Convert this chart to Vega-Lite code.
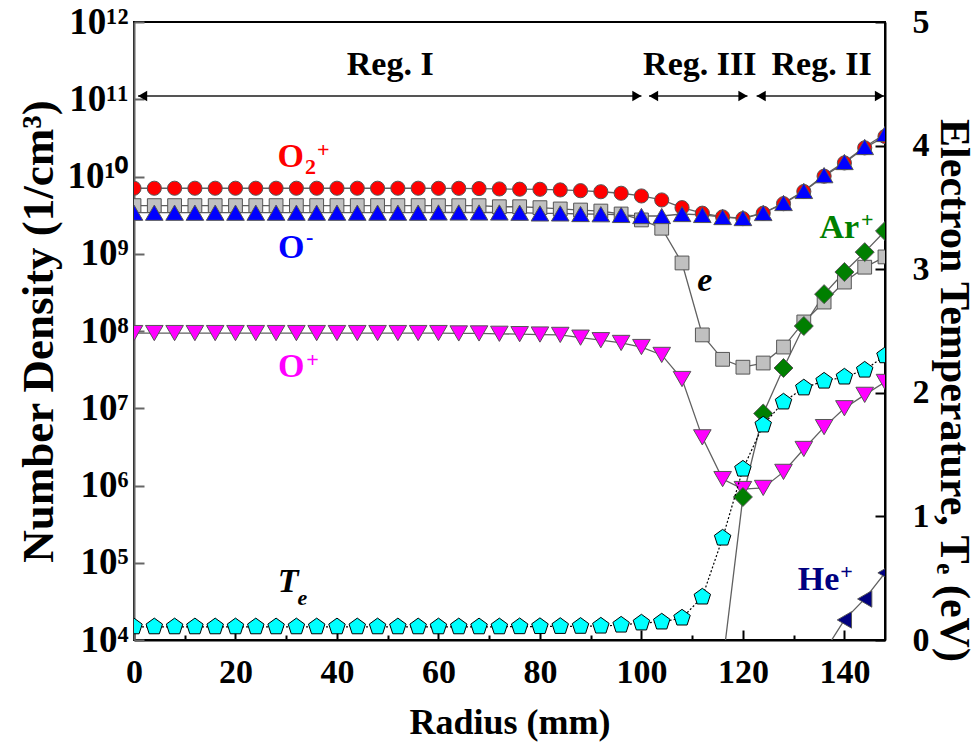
{
  "$schema": "https://vega.github.io/schema/vega-lite/v6.json",
  "width": 751,
  "height": 618,
  "autosize": {"type": "none"},
  "padding": {"left": 134, "top": 22, "right": 92, "bottom": 109},
  "background": "white",
  "config": {
    "font": "Liberation Serif",
    "view": {"stroke": "black", "strokeWidth": 2},
    "axis": {
      "labelFont": "Liberation Serif", "titleFont": "Liberation Serif",
      "labelFontWeight": "bold", "titleFontWeight": "bold",
      "labelColor": "black", "titleColor": "black", "grid": false,
      "domainColor": "black", "domainWidth": 2, "tickColor": "black", "tickWidth": 2
    },
    "style": {
      "guide-label": {"font": "Liberation Serif", "fontWeight": "bold"},
      "guide-title": {"font": "Liberation Serif", "fontWeight": "bold"}
    }
  },
  "datasets": {
    "dens": [
      {"r": 0, "O2p": 7.05e9, "e": 4.2e9, "Om": 3.4e9, "Op": 9.4e7},
      {"r": 4, "O2p": 7.05e9, "e": 4.2e9, "Om": 3.4e9, "Op": 9.4e7},
      {"r": 8, "O2p": 7.05e9, "e": 4.2e9, "Om": 3.4e9, "Op": 9.4e7},
      {"r": 12, "O2p": 7.05e9, "e": 4.2e9, "Om": 3.4e9, "Op": 9.4e7},
      {"r": 16, "O2p": 7.05e9, "e": 4.2e9, "Om": 3.4e9, "Op": 9.4e7},
      {"r": 20, "O2p": 7.05e9, "e": 4.2e9, "Om": 3.4e9, "Op": 9.4e7},
      {"r": 24, "O2p": 7.05e9, "e": 4.2e9, "Om": 3.4e9, "Op": 9.4e7},
      {"r": 28, "O2p": 7.05e9, "e": 4.2e9, "Om": 3.4e9, "Op": 9.4e7},
      {"r": 32, "O2p": 7.05e9, "e": 4.2e9, "Om": 3.4e9, "Op": 9.4e7},
      {"r": 36, "O2p": 7.05e9, "e": 4.2e9, "Om": 3.4e9, "Op": 9.4e7},
      {"r": 40, "O2p": 7.05e9, "e": 4.2e9, "Om": 3.4e9, "Op": 9.4e7},
      {"r": 44, "O2p": 7.05e9, "e": 4.2e9, "Om": 3.4e9, "Op": 9.4e7},
      {"r": 48, "O2p": 7.05e9, "e": 4.2e9, "Om": 3.4e9, "Op": 9.4e7},
      {"r": 52, "O2p": 7.05e9, "e": 4.2e9, "Om": 3.4e9, "Op": 9.4e7},
      {"r": 56, "O2p": 7.05e9, "e": 4.2e9, "Om": 3.4e9, "Op": 9.4e7},
      {"r": 60, "O2p": 7.03e9, "e": 4.19e9, "Om": 3.42e9, "Op": 9.4e7},
      {"r": 64, "O2p": 7.03e9, "e": 4.19e9, "Om": 3.42e9, "Op": 9.3e7},
      {"r": 68, "O2p": 6.98e9, "e": 4.19e9, "Om": 3.42e9, "Op": 9.3e7},
      {"r": 72, "O2p": 6.9e9, "e": 4.06e9, "Om": 3.42e9, "Op": 9.2e7},
      {"r": 76, "O2p": 6.85e9, "e": 4.06e9, "Om": 3.4e9, "Op": 9.1e7},
      {"r": 80, "O2p": 6.83e9, "e": 3.95e9, "Om": 3.33e9, "Op": 9.0e7},
      {"r": 84, "O2p": 6.7e9, "e": 3.8e9, "Om": 3.33e9, "Op": 8.9e7},
      {"r": 88, "O2p": 6.55e9, "e": 3.68e9, "Om": 3.27e9, "Op": 8.2e7},
      {"r": 92, "O2p": 6.35e9, "e": 3.57e9, "Om": 3.25e9, "Op": 7.6e7},
      {"r": 96, "O2p": 6.07e9, "e": 3.27e9, "Om": 3.18e9, "Op": 7.0e7},
      {"r": 100, "O2p": 5.6e9, "e": 2.74e9, "Om": 3.08e9, "Op": 6.2e7},
      {"r": 104, "O2p": 4.97e9, "e": 2.14e9, "Om": 3.08e9, "Op": 4.9e7},
      {"r": 108, "O2p": 3.95e9, "e": 7.6e8, "Om": 3.27e9, "Op": 2.39e7},
      {"r": 112, "O2p": 3.35e9, "e": 8.9e7, "Om": 3.18e9, "Op": 4.2e6},
      {"r": 116, "O2p": 3.0e9, "e": 4.3e7, "Om": 2.99e9, "Op": 1.21e6, "Arp": 4.9e3},
      {"r": 120, "O2p": 2.85e9, "e": 3.4e7, "Om": 2.9e9, "Op": 9.0e5, "Arp": 7.1e5},
      {"r": 124, "O2p": 3.35e9, "e": 3.85e7, "Om": 3.37e9, "Op": 9.3e5, "Arp": 8.55e6},
      {"r": 128, "O2p": 4.45e9, "e": 6.2e7, "Om": 4.54e9, "Op": 1.5e6, "Arp": 3.32e7},
      {"r": 132, "O2p": 6.4e9, "e": 1.31e8, "Om": 6.5e9, "Op": 2.97e6, "Arp": 1.16e8},
      {"r": 136, "O2p": 1.01e10, "e": 2.37e8, "Om": 1.04e10, "Op": 5.7e6, "Arp": 3.0e8, "Hep": 7e3},
      {"r": 140, "O2p": 1.5e10, "e": 4.3e8, "Om": 1.54e10, "Op": 1.0e7, "Arp": 5.8e8, "Hep": 1.82e4},
      {"r": 144, "O2p": 2.35e10, "e": 6.7e8, "Om": 2.41e10, "Op": 1.49e7, "Arp": 1.05e9, "Hep": 3.4e4},
      {"r": 148, "O2p": 3.3e10, "e": 9.1e8, "Om": 3.55e10, "Op": 2.19e7, "Arp": 1.97e9, "Hep": 7.4e4}
    ],
    "te": [
      {"r": 0, "te": 0.107}, {"r": 4, "te": 0.107}, {"r": 8, "te": 0.107}, {"r": 12, "te": 0.107},
      {"r": 16, "te": 0.107}, {"r": 20, "te": 0.107}, {"r": 24, "te": 0.107}, {"r": 28, "te": 0.107},
      {"r": 32, "te": 0.107}, {"r": 36, "te": 0.107}, {"r": 40, "te": 0.107}, {"r": 44, "te": 0.107},
      {"r": 48, "te": 0.107}, {"r": 52, "te": 0.107}, {"r": 56, "te": 0.107}, {"r": 60, "te": 0.107},
      {"r": 64, "te": 0.107}, {"r": 68, "te": 0.107}, {"r": 72, "te": 0.107}, {"r": 76, "te": 0.108},
      {"r": 80, "te": 0.109}, {"r": 84, "te": 0.11}, {"r": 88, "te": 0.111}, {"r": 92, "te": 0.113},
      {"r": 96, "te": 0.121}, {"r": 100, "te": 0.138}, {"r": 104, "te": 0.146}, {"r": 108, "te": 0.178},
      {"r": 112, "te": 0.348}, {"r": 116, "te": 0.825}, {"r": 120, "te": 1.383}, {"r": 124, "te": 1.74},
      {"r": 128, "te": 1.926}, {"r": 132, "te": 2.04}, {"r": 136, "te": 2.095}, {"r": 140, "te": 2.128},
      {"r": 144, "te": 2.184}, {"r": 148, "te": 2.3}
    ],
    "arrows": [
      {"a": 0.8, "b": 100.0},
      {"a": 101.5, "b": 120.9},
      {"a": 122.7, "b": 147.8}
    ],
    "heads": [
      {"r": 1.7, "d": "l"}, {"r": 102.4, "d": "l"}, {"r": 123.6, "d": "l"},
      {"r": 99.1, "d": "r"}, {"r": 120.0, "d": "r"}, {"r": 146.9, "d": "r"}
    ],
    "labs": [
      {"t": "O", "r": 30.9, "v": 1.79e10, "k": "O2p"},
      {"t": "O", "r": 31.0, "v": 1.19e9, "k": "Om"},
      {"t": "O", "r": 31.0, "v": 3.42e7, "k": "Op"},
      {"t": "Ar", "r": 139.0, "v": 2.15e9, "k": "Arp"},
      {"t": "He", "r": 134.9, "v": 5.99e4, "k": "Hep"},
      {"t": "Reg. I", "r": 50.5, "v": 2.77e11, "k": "none"},
      {"t": "Reg. III", "r": 111.5, "v": 2.77e11, "k": "none"},
      {"t": "Reg. II", "r": 135.5, "v": 2.77e11, "k": "none"}
    ],
    "subs": [
      {"t": "2", "r": 34.8, "v": 1.33e10, "k": "O2p"},
      {"t": "+", "r": 37.3, "v": 2.2e10, "k": "O2p"},
      {"t": "-", "r": 34.6, "v": 1.65e9, "k": "Om"},
      {"t": "+", "r": 35.2, "v": 4.2e7, "k": "Op"},
      {"t": "+", "r": 144.5, "v": 2.73e9, "k": "Arp"},
      {"t": "+", "r": 140.4, "v": 7.6e4, "k": "Hep"}
    ],
    "ital": [
      {"t": "e", "r": 112.5, "v": 4.44e8}
    ],
    "tlab": [
      {"t": "T", "r": 30.4, "te": 0.469}
    ],
    "tsub": [
      {"t": "e", "r": 33.2, "te": 0.34}
    ]
  },
  "layer": [
    {
      "data": {"name": "dens"},
      "transform": [
        {"fold": ["O2p", "e", "Om", "Op", "Arp", "Hep"], "as": ["s", "v"]},
        {"filter": "isValid(datum.v)"}
      ],
      "mark": {"type": "line", "clip": true, "color": "#606060", "strokeWidth": 1.3},
      "encoding": {
        "x": {
          "field": "r", "type": "quantitative",
          "scale": {"domain": [0, 148], "nice": false, "zero": false},
          "axis": {
            "orient": "bottom", "values": [0, 20, 40, 60, 80, 100, 120, 140],
            "labelFont": "Liberation Serif", "titleFont": "Liberation Serif",
            "labelFontSize": 34, "labelPadding": 25, "tickSize": -10,
            "labelFlush": false, "labelOverlap": false,
            "title": "Radius (mm)", "titleFontSize": 36, "titleY": 82, "titleBaseline": "middle"
          }
        },
        "y": {
          "field": "v", "type": "quantitative",
          "scale": {"type": "log", "domain": [1e4, 1e12], "nice": false},
          "axis": {
            "orient": "left",
            "values": [1e4, 1e5, 1e6, 1e7, 1e8, 1e9, 1e10, 1e11, 1e12],
            "labelExpr": "['10⁴','10⁵','10⁶','10⁷','10⁸','10⁹','10¹⁰','10¹¹','10¹²'][round(log(datum.value)/LN10)-4]",
            "labelFont": "Liberation Serif", "titleFont": "Liberation Serif",
            "labelFontSize": 37, "labelPadding": 16, "tickSize": -10,
            "labelFlush": false, "labelOverlap": false,
            "tickColor": "#666", "domainColor": "#666",
            "title": "Number Density (1/cm³)", "titleFontSize": 45,
            "titleX": -96, "titleY": 309, "titleBaseline": "middle", "titleAngle": 270
          }
        },
        "detail": {"field": "s", "type": "nominal"}
      }
    },
    {
      "data": {"name": "dens"},
      "transform": [
        {"fold": ["O2p", "e", "Om", "Op", "Arp", "Hep"], "as": ["s", "v"]},
        {"filter": "isValid(datum.v)"}
      ],
      "mark": {"type": "point", "filled": true, "clip": true, "stroke": "#555555", "strokeWidth": 1, "opacity": 1},
      "encoding": {
        "x": {"field": "r", "type": "quantitative", "axis": null},
        "y": {"field": "v", "type": "quantitative", "axis": null, "scale": {"type": "log", "domain": [1e4, 1e12], "nice": false}},
        "shape": {
          "field": "s", "type": "nominal", "legend": null,
          "scale": {"domain": ["O2p", "e", "Om", "Op", "Arp", "Hep"], "range": ["circle", "square", "triangle-up", "triangle-down", "diamond", "triangle-left"]}
        },
        "fill": {
          "field": "s", "type": "nominal", "legend": null,
          "scale": {"domain": ["O2p", "e", "Om", "Op", "Arp", "Hep"], "range": ["#ff0000", "#c0c0c0", "#0000ff", "#ff00ff", "#007f00", "#000080"]}
        },
        "size": {
          "field": "s", "type": "nominal", "legend": null,
          "scale": {"type": "ordinal", "domain": ["O2p", "e", "Om", "Op", "Arp", "Hep"], "range": [200, 190, 310, 310, 360, 270]}
        }
      }
    },
    {
      "data": {"name": "arrows"},
      "mark": {"type": "rule", "color": "#555555", "strokeWidth": 2},
      "encoding": {
        "x": {"field": "a", "type": "quantitative", "axis": null},
        "x2": {"field": "b"},
        "y": {"datum": 1.1e11, "type": "quantitative", "axis": null, "scale": {"type": "log", "domain": [1e4, 1e12], "nice": false}}
      }
    },
    {
      "data": {"name": "heads"},
      "transform": [{"filter": "datum.d === 'l'"}],
      "mark": {"type": "point", "shape": "triangle-left", "filled": true, "color": "black", "size": 110, "opacity": 1},
      "encoding": {
        "x": {"field": "r", "type": "quantitative", "axis": null},
        "y": {"datum": 1.1e11, "type": "quantitative", "axis": null, "scale": {"type": "log", "domain": [1e4, 1e12], "nice": false}}
      }
    },
    {
      "data": {"name": "heads"},
      "transform": [{"filter": "datum.d === 'r'"}],
      "mark": {"type": "point", "shape": "triangle-right", "filled": true, "color": "black", "size": 110, "opacity": 1},
      "encoding": {
        "x": {"field": "r", "type": "quantitative", "axis": null},
        "y": {"datum": 1.1e11, "type": "quantitative", "axis": null, "scale": {"type": "log", "domain": [1e4, 1e12], "nice": false}}
      }
    },
    {
      "data": {"name": "labs"},
      "mark": {"type": "text", "font": "Liberation Serif", "fontWeight": "bold", "fontSize": 34, "align": "center", "baseline": "middle"},
      "encoding": {
        "x": {"field": "r", "type": "quantitative", "axis": null},
        "y": {"field": "v", "type": "quantitative", "axis": null, "scale": {"type": "log", "domain": [1e4, 1e12], "nice": false}},
        "text": {"field": "t"},
        "color": {
          "field": "k", "type": "nominal", "legend": null,
          "scale": {"domain": ["O2p", "Om", "Op", "Arp", "Hep", "none"], "range": ["#ff0000", "#0000ff", "#ff00ff", "#008000", "#000080", "#000000"]}
        }
      }
    },
    {
      "data": {"name": "subs"},
      "mark": {"type": "text", "font": "Liberation Serif", "fontWeight": "bold", "fontSize": 22, "align": "center", "baseline": "middle"},
      "encoding": {
        "x": {"field": "r", "type": "quantitative", "axis": null},
        "y": {"field": "v", "type": "quantitative", "axis": null, "scale": {"type": "log", "domain": [1e4, 1e12], "nice": false}},
        "text": {"field": "t"},
        "color": {"field": "k", "type": "nominal", "legend": null}
      }
    },
    {
      "data": {"name": "ital"},
      "mark": {"type": "text", "font": "Liberation Serif", "fontWeight": "bold", "fontStyle": "italic", "fontSize": 34, "align": "center", "baseline": "middle", "color": "black"},
      "encoding": {
        "x": {"field": "r", "type": "quantitative", "axis": null},
        "y": {"field": "v", "type": "quantitative", "axis": null, "scale": {"type": "log", "domain": [1e4, 1e12], "nice": false}},
        "text": {"field": "t"}
      }
    },
    {
      "data": {"name": "te"},
      "mark": {"type": "line", "color": "black", "strokeWidth": 1.2, "strokeDash": [2, 2], "clip": true},
      "encoding": {
        "x": {"field": "r", "type": "quantitative", "axis": null},
        "y": {
          "field": "te", "type": "quantitative",
          "scale": {"domain": [0, 5], "nice": false, "zero": true},
          "axis": {
            "orient": "right", "values": [0, 1, 2, 3, 4, 5],
            "labelFont": "Liberation Serif", "titleFont": "Liberation Serif",
            "labelFontSize": 34, "labelPadding": 37, "tickSize": -10,
            "labelFlush": false, "labelOverlap": false,
            "title": "Electron Temperature, Tₑ (eV)", "titleFontSize": 42,
            "titleX": 68, "titleY": 368, "titleBaseline": "middle", "titleAngle": 90
          }
        }
      }
    },
    {
      "data": {"name": "te"},
      "mark": {"type": "point", "shape": "M0,-1L0.951,-0.309L0.588,0.809L-0.588,0.809L-0.951,-0.309Z", "filled": true, "fill": "#00ffff", "stroke": "black", "strokeWidth": 1, "size": 300, "opacity": 1, "clip": true},
      "encoding": {
        "x": {"field": "r", "type": "quantitative", "axis": null},
        "y": {"field": "te", "type": "quantitative", "axis": null, "scale": {"domain": [0, 5], "nice": false, "zero": true}}
      }
    },
    {
      "data": {"name": "tlab"},
      "mark": {"type": "text", "font": "Liberation Serif", "fontWeight": "bold", "fontStyle": "italic", "fontSize": 34, "align": "center", "baseline": "middle", "color": "black"},
      "encoding": {
        "x": {"field": "r", "type": "quantitative", "axis": null},
        "y": {"field": "te", "type": "quantitative", "axis": null, "scale": {"domain": [0, 5], "nice": false, "zero": true}},
        "text": {"field": "t"}
      }
    },
    {
      "data": {"name": "tsub"},
      "mark": {"type": "text", "font": "Liberation Serif", "fontWeight": "bold", "fontStyle": "italic", "fontSize": 22, "align": "center", "baseline": "middle", "color": "black"},
      "encoding": {
        "x": {"field": "r", "type": "quantitative", "axis": null},
        "y": {"field": "te", "type": "quantitative", "axis": null, "scale": {"domain": [0, 5], "nice": false, "zero": true}},
        "text": {"field": "t"}
      }
    },
    {
      "data": {"name": "te"},
      "mark": {"type": "point", "opacity": 0},
      "encoding": {
        "x": {
          "field": "r", "type": "quantitative",
          "axis": {
            "orient": "bottom", "values": [10, 30, 50, 70, 90, 110, 130],
            "labels": false, "domain": false, "tickSize": -5, "title": null
          }
        }
      }
    }
  ],
  "resolve": {"scale": {"y": "independent"}, "axis": {"x": "independent"}}
}
